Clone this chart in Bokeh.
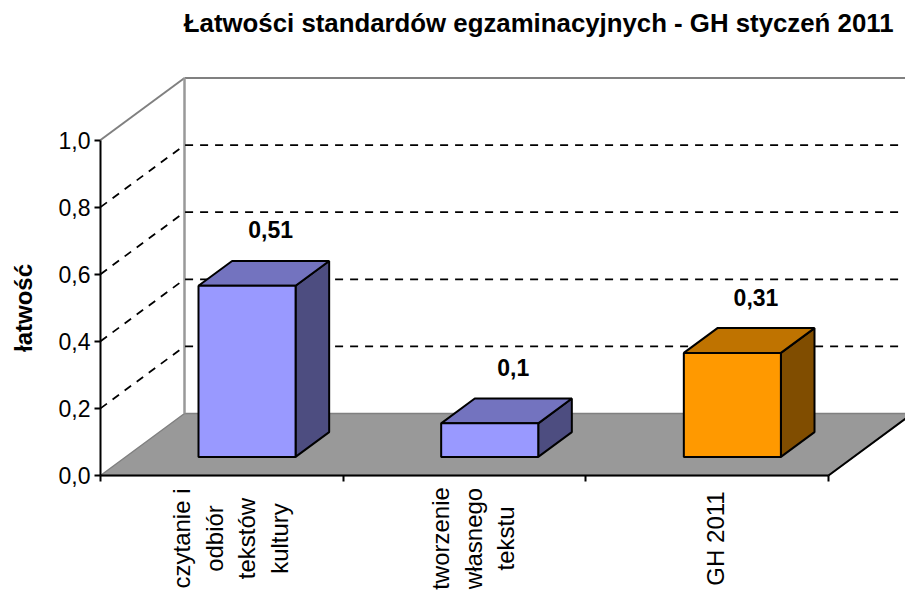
from math import pi
from bokeh.embed import file_html
from bokeh.resources import INLINE
from bokeh.plotting import figure
from bokeh.models import (Range1d, LinearAxis, FixedTicker, Label, Title)

TITLE = "Łatwości standardów egzaminacyjnych - GH styczeń 2011"
Y_LABEL = "łatwość"
CATEGORIES = [["czytanie i", "odbiór", "tekstów", "kultury"],
              ["tworzenie", "własnego", "tekstu"],
              ["GH 2011"]]
VALUES = [0.51, 0.10, 0.31]
VALUE_LABELS = ["0,51", "0,1", "0,31"]
FRONT = ["#9999FF", "#9999FF", "#FF9900"]
TOP = ["#7373BF", "#7373BF", "#BF7300"]
SIDE = ["#4D4D80", "#4D4D80", "#804D00"]
Y_TICKS = [0.0, 0.2, 0.4, 0.6, 0.8, 1.0]
Y_TICK_LABELS = ["0,0", "0,2", "0,4", "0,6", "0,8", "1,0"]

FONT = "Liberation Sans"
W, H = 905, 594
AXIS_X, AXIS_Y, FRAME_TOP = 100, 475, 36
PX_CAT = 728 / 3
PX_VAL = 335.5
DEPTH_X = 84 / PX_CAT      # oblique depth, in category units
DEPTH_Y = 62 / PX_VAL      # oblique depth, in value units
BAR_W = 0.4
Z0, Z1 = 0.3, 0.7
n = len(VALUES)

x_start = -AXIS_X / PX_CAT
x_end = (W - AXIS_X) / PX_CAT
y_start = -(H - AXIS_Y) / PX_VAL
y_end = (AXIS_Y - FRAME_TOP) / PX_VAL

p = figure(width=W, height=H, output_backend="svg", toolbar_location=None,
           x_range=Range1d(x_start, x_end), y_range=Range1d(y_start, y_end),
           x_axis_type=None, y_axis_type=None,
           min_border_left=0, min_border_right=0, min_border_bottom=0,
           min_border_top=FRAME_TOP, frame_width=W, frame_height=H - FRAME_TOP,
           outline_line_color=None, background_fill_color="white",
           border_fill_color="white")
p.grid.visible = False


def proj(x, y, z):
    return x + z * DEPTH_X, y + z * DEPTH_Y


# floor
p.patch([0, n, n + DEPTH_X, DEPTH_X], [0, 0, DEPTH_Y, DEPTH_Y],
        fill_color="#999999", line_color="#808080", line_width=1.5)
p.line([n, n + DEPTH_X], [0, DEPTH_Y], line_color="black", line_width=2)

# walls
p.line([0, DEPTH_X], [1, 1 + DEPTH_Y], line_color="#808080", line_width=2)
p.line([DEPTH_X, x_end], [1 + DEPTH_Y, 1 + DEPTH_Y], line_color="#808080", line_width=2)
p.line([DEPTH_X, DEPTH_X], [DEPTH_Y, 1 + DEPTH_Y], line_color="#999999", line_width=2.5)

# dashed gridlines
for v in Y_TICKS[1:-1]:
    p.line([0, DEPTH_X, x_end], [v, v + DEPTH_Y, v + DEPTH_Y], line_color="black",
           line_width=1.8, line_dash="8 7")

# bars
for i, v in enumerate(VALUES):
    x0 = i + 0.5 - BAR_W / 2
    x1 = i + 0.5 + BAR_W / 2
    c = [proj(x1, 0, Z0), proj(x1, 0, Z1), proj(x1, v, Z1), proj(x1, v, Z0)]
    p.patch([q[0] for q in c], [q[1] for q in c], fill_color=SIDE[i], line_color="black", line_width=2)
    c = [proj(x0, v, Z0), proj(x1, v, Z0), proj(x1, v, Z1), proj(x0, v, Z1)]
    p.patch([q[0] for q in c], [q[1] for q in c], fill_color=TOP[i], line_color="black", line_width=2)
    c = [proj(x0, 0, Z0), proj(x1, 0, Z0), proj(x1, v, Z0), proj(x0, v, Z0)]
    p.patch([q[0] for q in c], [q[1] for q in c], fill_color=FRONT[i], line_color="black", line_width=2)
    lx, ly = proj(i + 0.5, v, Z1)
    p.add_layout(Label(x=lx, y=ly, text=VALUE_LABELS[i], x_offset=-10, y_offset=31,
                       text_font=FONT, text_font_style="bold", text_font_size="23px",
                       text_align="center", text_baseline="middle", text_color="black"))

# value axis
ya = LinearAxis(ticker=FixedTicker(ticks=Y_TICKS), bounds=(0, 1), fixed_location=0,
                major_label_overrides={t: s for t, s in zip(Y_TICKS, Y_TICK_LABELS)},
                axis_label=Y_LABEL, axis_label_text_font=FONT, axis_label_text_font_style="bold",
                axis_label_text_font_size="24px", axis_label_standoff=19,
                axis_label_text_color="black",
                major_label_text_font=FONT, major_label_text_font_size="23px",
                major_label_text_color="black",
                major_label_standoff=4, major_tick_in=0, major_tick_out=6,
                minor_tick_line_color=None,
                axis_line_color="black", axis_line_width=2, major_tick_line_color="black",
                major_tick_line_width=2)
p.add_layout(ya, "left")

# category axis: ticks on the category boundaries, labels drawn below
xa = LinearAxis(ticker=FixedTicker(ticks=list(range(n + 1))), bounds=(0, n), fixed_location=0,
                major_label_text_font_size="0px", major_label_text_color=None,
                major_tick_in=0, major_tick_out=6, minor_tick_line_color=None,
                axis_line_color="black", axis_line_width=2, major_tick_line_color="black",
                major_tick_line_width=2)
p.add_layout(xa, "below")

for i, lines in enumerate(CATEGORIES):
    for j, line in enumerate(lines):
        col = (j - (len(lines) - 1) / 2) * 32.5
        p.add_layout(Label(x=i + 0.5, y=0, x_offset=col + 8.5, y_offset=-63, text=line, angle=pi / 2,
                           text_font=FONT, text_font_size="24px", text_align="center",
                           text_baseline="middle", text_color="black"))

p.add_layout(Title(text=TITLE, text_font=FONT, text_font_style="bold", text_font_size="25.8px",
                   align="right", offset=12, standoff=0, text_color="black"), "above")

open("out.html", "w").write(file_html(p, INLINE))
